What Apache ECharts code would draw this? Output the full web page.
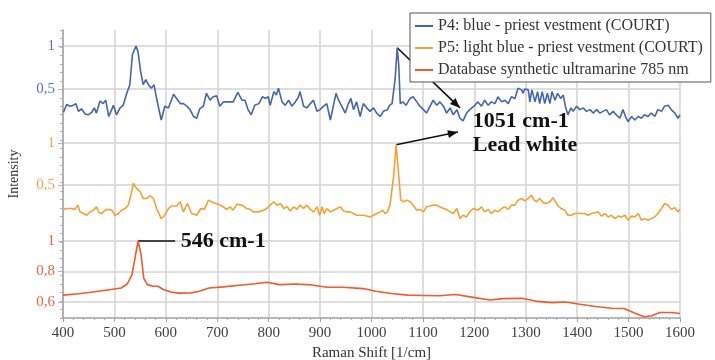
<!DOCTYPE html>
<html><head><meta charset="utf-8">
<script src="https://cdn.jsdelivr.net/npm/echarts@6/dist/echarts.min.js"></script>
<style>html,body{margin:0;padding:0;background:#fff}#c{width:715px;height:360px}</style>
</head><body><div id="c"></div>
<script>
// ---------- data ----------
const seriesNames = ['P4: blue - priest vestment (COURT)', 'P5: light blue - priest vestment (COURT)', 'Database synthetic ultramarine 785 nm'];
const xMin = 400, xMax = 1600, xStep = 100;

const blueWn = [401,407,414,420,425,430,436,443,449,456,461,465,472,478,483,489,498,504,511,517,524,530,535,542,546,551,556,561,566,572,577,582,591,598,605,615,621,628,634,641,647,654,660,666,673,679,686,692,699,705,712,722,731,740,748,754,760,766,773,781,788,794,799,
 803,810,815,819,826,832,839,845,852,858,861,868,874,881,887,894,900,907,913,920,926,931,936,942,949,955,960,965,971,978,984,991,997,1004,1010,1017,1023,1031,1035,1040,1046,1050,1053,1056,1061,1067,1075,1081,1088,1094,1101,1107,1114,1120,1127,1133,1140,1146,1153,1159,1166,1172,1178,1185,1191,
 1201,1207,1214,1220,1227,1233,1240,1246,1253,1259,1266,1272,1279,1285,1292,1295,1298,1305,1308,1312,1318,1323,1327,1332,1337,1342,1347,1351,1357,1362,1368,1373,1377,1382,1388,1392,1399,1405,1412,1418,1425,1431,1438,1444,1450,1457,1463,1470,1476,1483,1489,1494,1499,1506,1512,1519,1525,1531,1538,1544,1551,1557,1564,1570,1577,1583,1590,1596,1600];
const blueVal = [0.23,0.32,0.30,0.31,0.33,0.24,0.27,0.21,0.20,0.23,0.28,0.22,0.36,0.33,0.37,0.18,0.31,0.20,0.28,0.31,0.45,0.55,0.90,1.00,0.93,0.70,0.55,0.61,0.55,0.51,0.55,0.39,0.14,0.30,0.28,0.44,0.39,0.33,0.33,0.30,0.26,0.18,0.16,0.27,0.30,0.45,0.37,0.41,0.42,0.30,0.35,0.35,0.35,0.46,0.37,0.37,0.26,0.20,0.31,0.33,0.41,0.39,0.41,
 0.31,0.47,0.43,0.51,0.35,0.31,0.37,0.30,0.35,0.41,0.47,0.30,0.28,0.33,0.37,0.24,0.26,0.30,0.33,0.14,0.31,0.45,0.37,0.30,0.22,0.33,0.39,0.26,0.35,0.18,0.33,0.28,0.24,0.28,0.22,0.18,0.24,0.26,0.31,0.33,0.62,0.98,0.78,0.33,0.35,0.31,0.39,0.41,0.35,0.30,0.26,0.22,0.30,0.37,0.31,0.35,0.30,0.22,0.28,0.20,0.26,0.16,0.13,0.22,0.26,
 0.31,0.35,0.30,0.37,0.31,0.35,0.33,0.41,0.35,0.37,0.33,0.41,0.39,0.51,0.49,0.45,0.50,0.49,0.35,0.49,0.35,0.47,0.33,0.47,0.33,0.45,0.33,0.47,0.37,0.45,0.39,0.43,0.30,0.20,0.28,0.24,0.30,0.26,0.28,0.24,0.26,0.22,0.26,0.22,0.24,0.26,0.20,0.24,0.20,0.16,0.26,0.18,0.12,0.18,0.14,0.18,0.16,0.20,0.18,0.22,0.18,0.26,0.24,0.30,0.31,0.26,0.22,0.16,0.20];

const orangeWn = [401,407,417,423,429,433,440,446,453,459,465,470,475,482,488,495,501,508,514,521,527,532,537,543,550,556,563,569,576,582,591,598,605,611,621,628,634,642,650,660,668,675,683,692,702,712,718,725,731,738,748,757,764,770,780,790,796,
 803,810,816,823,829,836,842,849,855,861,868,874,881,887,894,899,904,908,913,920,926,933,939,946,952,959,965,971,978,984,991,997,1004,1010,1017,1022,1026,1031,1036,1043,1048,1052,1057,1062,1069,1075,1081,1088,1094,1101,1107,1114,1120,1127,1133,1140,1146,1153,1159,1166,1172,1178,1185,1191,1198,
 1201,1207,1214,1220,1227,1233,1240,1246,1253,1259,1266,1272,1279,1285,1292,1298,1305,1311,1316,1321,1327,1334,1340,1347,1353,1358,1363,1369,1376,1382,1389,1395,1402,1408,1415,1421,1428,1434,1441,1447,1454,1460,1467,1473,1480,1486,1493,1499,1506,1512,1519,1525,1531,1538,1544,1551,1557,1564,1570,1577,1583,1590,1596,1600];
const orangeVal = [0.21,0.22,0.22,0.21,0.26,0.18,0.16,0.14,0.18,0.20,0.24,0.17,0.16,0.20,0.21,0.20,0.14,0.16,0.20,0.22,0.26,0.38,0.52,0.46,0.42,0.34,0.34,0.37,0.34,0.22,0.10,0.14,0.22,0.25,0.25,0.30,0.18,0.28,0.16,0.14,0.22,0.21,0.32,0.29,0.27,0.24,0.21,0.24,0.20,0.27,0.26,0.22,0.21,0.18,0.18,0.20,0.22,
 0.26,0.30,0.26,0.28,0.22,0.24,0.19,0.24,0.21,0.26,0.22,0.26,0.21,0.18,0.24,0.14,0.24,0.16,0.22,0.18,0.20,0.22,0.24,0.19,0.18,0.18,0.16,0.14,0.14,0.14,0.13,0.12,0.14,0.16,0.18,0.20,0.16,0.18,0.26,0.60,0.98,0.68,0.32,0.30,0.32,0.30,0.26,0.20,0.21,0.18,0.24,0.25,0.26,0.26,0.24,0.22,0.21,0.18,0.16,0.22,0.10,0.14,0.12,0.18,0.22,
 0.22,0.20,0.24,0.18,0.21,0.16,0.20,0.18,0.22,0.24,0.21,0.26,0.26,0.32,0.34,0.31,0.34,0.38,0.32,0.30,0.34,0.29,0.28,0.30,0.35,0.30,0.25,0.22,0.20,0.14,0.14,0.16,0.16,0.16,0.16,0.14,0.16,0.17,0.18,0.13,0.16,0.12,0.14,0.10,0.13,0.12,0.14,0.08,0.13,0.12,0.16,0.08,0.10,0.08,0.10,0.12,0.16,0.22,0.28,0.26,0.21,0.23,0.18,0.21];

const redWn = [400,431,462,493,513,525,534,540,546,552,557,564,575,585,595,610,626,649,665,684,712,743,774,797,821,852,883,914,945,984,1008,1039,1070,1101,1132,1163,1195,1230,1257,1292,1319,1350,1378,1405,1436,1467,1491,1514,1530,1545,1561,1584,1600];
const redVal = [0.645,0.654,0.667,0.682,0.692,0.718,0.778,0.886,1.0,0.908,0.757,0.714,0.703,0.703,0.682,0.665,0.658,0.660,0.671,0.692,0.699,0.710,0.720,0.729,0.714,0.718,0.712,0.697,0.697,0.688,0.671,0.656,0.645,0.643,0.641,0.649,0.632,0.613,0.622,0.624,0.606,0.596,0.600,0.585,0.570,0.559,0.557,0.525,0.503,0.510,0.531,0.531,0.525];

// y tick layout per stacked panel: [min, max, interval]
const blueTicks = [0.5, 1, 0.5];
const orangeTicks = [0.5, 1, 0.5];
const redTicks = [0.6, 1, 0.2];

// annotations (data coordinates of each panel)
const annBlue = {grid: 1, from: [1050, 0.98], to: [1172, 0.28]};
const annOrange = {grid: 2, from: [1048, 0.98], to: [1168, 1.13]};
const annRed = {grid: 3, from: [546, 1.0], to: [618, 1.0]};
const txt1051 = {grid: 1, at: [1197, 0.12], text: '1051 cm-1'};
const txtLead = {grid: 2, at: [1197, 0.975], text: 'Lead white'};
const txt546 = {grid: 3, at: [629, 1.0], text: '546 cm-1'};

// ---------- chart ----------
const FONT = '"Liberation Serif","Times New Roman",serif';
const colors = ['#4466ab', '#f6a133', '#f4582b'];
const labelColors = ['#5b74b4', '#f4a448', '#f4643c'];
const GRID = '#d3d3d3', AX = '#a0a0a0';
const L = 63, R = 35;
const chart = echarts.init(document.getElementById('c'));

const fmt = v => String(+v.toFixed(2)).replace('.', ',');
function subY(i, t) {
  return {gridIndex: i, type: 'value', min: t[0], max: t[1], interval: t[2],
    axisLine: {show: false},
    axisTick: {show: true, length: 5, lineStyle: {color: '#b5b5b5'}},
    axisLabel: {color: labelColors[i - 1], fontFamily: FONT, fontSize: 15, margin: 8, formatter: fmt},
    splitLine: {show: true, lineStyle: {color: GRID, width: 1.5}}};
}
function subX(i) { return {gridIndex: i, type: 'value', min: xMin, max: xMax, show: false}; }
const pairs = (w, v) => w.map((x, k) => [x, v[k]]);

chart.setOption({
  animation: false,
  backgroundColor: '#fff',
  grid: [
    {left: L, right: R, top: 30, bottom: 42, outerBoundsMode: 'none'},
    {left: L, right: R, top: 46, height: 43, outerBoundsMode: 'none'},
    {left: L, right: R, top: 143, height: 42, outerBoundsMode: 'none'},
    {left: L, right: R, top: 241, height: 61, outerBoundsMode: 'none'}
  ],
  xAxis: [
    {gridIndex: 0, type: 'value', min: xMin, max: xMax, interval: xStep,
     axisLine: {show: true, onZero: false, lineStyle: {color: AX, width: 1.5}},
     axisTick: {show: true, length: 4, lineStyle: {color: AX}},
     minorTick: {show: true, splitNumber: 5, length: 2, lineStyle: {color: '#b0b0b0'}},
     axisLabel: {color: '#404040', fontFamily: FONT, fontSize: 15, margin: 8, formatter: v => String(v)},
     splitLine: {show: true, lineStyle: {color: GRID, width: 1.5}},
     name: 'Raman Shift [1/cm]', nameLocation: 'middle', nameGap: 27,
     nameTextStyle: {color: '#333', fontFamily: FONT, fontSize: 15}},
    subX(1), subX(2), subX(3)
  ],
  yAxis: [
    {gridIndex: 0, type: 'value', min: 0, max: 34, interval: 1,
     axisLine: {show: true, lineStyle: {color: AX, width: 1.5}},
     axisTick: {show: true, length: 3, lineStyle: {color: '#b0b0b0'}},
     axisLabel: {show: false}, splitLine: {show: false},
     name: 'Intensity', nameLocation: 'middle', nameGap: 42, nameRotate: 90,
     nameTextStyle: {color: '#333', fontFamily: FONT, fontSize: 14}},
    subY(1, blueTicks), subY(2, orangeTicks), subY(3, redTicks)
  ],
  legend: {
    data: seriesNames, orient: 'vertical', left: 410, top: 13,
    icon: 'rect', itemWidth: 18, itemHeight: 2, itemGap: 6, padding: [5, 8, 4, 5],
    borderColor: '#555', borderWidth: 1, backgroundColor: '#fff',
    textStyle: {fontFamily: FONT, fontSize: 16, color: '#333', lineHeight: 16}, z: 10
  },
  series: [
    {type: 'line', name: seriesNames[0], xAxisIndex: 1, yAxisIndex: 1, data: pairs(blueWn, blueVal)},
    {type: 'line', name: seriesNames[1], xAxisIndex: 2, yAxisIndex: 2, data: pairs(orangeWn, orangeVal)},
    {type: 'line', name: seriesNames[2], xAxisIndex: 3, yAxisIndex: 3, data: pairs(redWn, redVal)}
  ].map((s, i) => Object.assign(s, {symbol: 'none', clip: false, z: 3,
    lineStyle: {color: colors[i], width: 1.6}, itemStyle: {color: colors[i]}}))
});

// annotations anchored via the panels' own scales
const px = (g, p) => chart.convertToPixel({gridIndex: g}, p);
function arrow(a, head) {
  const p1 = px(a.grid, a.from), p2 = px(a.grid, a.to);
  const els = [{type: 'line', shape: {x1: p1[0], y1: p1[1], x2: p2[0], y2: p2[1]},
    style: {stroke: '#111', lineWidth: 1.6}}];
  if (head) {
    const dx = p2[0] - p1[0], dy = p2[1] - p1[1], len = Math.hypot(dx, dy);
    const ux = dx / len, uy = dy / len, hl = 10, hw = 4;
    const bx = p2[0] - ux * hl, by = p2[1] - uy * hl;
    els.push({type: 'polygon', shape: {points: [[p2[0], p2[1]], [bx - uy * hw, by + ux * hw], [bx + uy * hw, by - ux * hw]]},
      style: {fill: '#111'}});
  }
  return els;
}
function label(t) {
  const p = px(t.grid, t.at);
  return {type: 'text', x: p[0], y: p[1], style: {text: t.text, fill: '#111',
    font: 'bold 22px ' + FONT, textVerticalAlign: 'middle', verticalAlign: 'middle'}};
}
chart.setOption({graphic: {elements: [].concat(
  arrow(annBlue, true), arrow(annOrange, true), arrow(annRed, false),
  [label(txt1051), label(txtLead), label(txt546)]
).map(e => Object.assign(e, {z: 1, silent: true}))}});
</script></body></html>
